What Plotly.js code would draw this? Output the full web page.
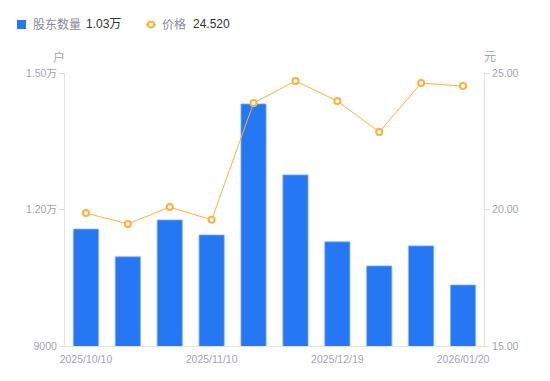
<!DOCTYPE html>
<html>
<head>
<meta charset="utf-8">
<script src="https://cdn.plot.ly/plotly-3.0.1.min.js"></script>
<style>html,body{margin:0;padding:0;background:#fff;}#chart{width:550px;height:381px;}</style>
</head>
<body>
<div id="chart"></div>
<script>
const dates = ["2025/10/10","2025/10/20","2025/10/31","2025/11/10","2025/11/20","2025/11/28","2025/12/19","2025/12/31","2026/01/09","2026/01/20"];
const holders = [11570, 10960, 11770, 11440, 14320, 12760, 11290, 10760, 11200, 10340];
const prices = [19.87, 19.47, 20.09, 19.62, 23.90, 24.71, 23.97, 22.84, 24.63, 24.52];
const xTickVals = ["2025/10/10","2025/11/10","2025/12/19","2026/01/20"];
const leftTickVals = [9000, 12000, 15000];
const leftTickText = ["9000", "1.20万", "1.50万"];
const rightTickVals = [15, 20, 25];
const rightTickText = ["15.00", "20.00", "25.00"];
const legendHolders = "1.03万";
const legendPrice = "24.520";

const FONT = "Liberation Sans, Arial, Noto Sans CJK SC, sans-serif";
const L = 65, R = 484, T = 73, B = 346;
const px = x => (x - L) / (R - L);
const py = y => (B - y) / (B - T);

const barColor = "#2577F3";
const lineColor = "#FBB13C";
const tickColor = "#a3a3b3";
const TICK_SIZE = 10.5;

const traces = [
  {
    type: "bar", x: dates, y: holders, yaxis: "y",
    marker: {color: barColor, line: {color: "#7fb0f7", width: 0.8}},
    width: 0.6, hoverinfo: "skip", showlegend: false
  },
  {
    type: "scatter", mode: "lines+markers", x: dates, y: prices, yaxis: "y2",
    line: {color: lineColor, width: 1},
    marker: {symbol: "circle", size: 6, color: "#ffffff", line: {color: lineColor, width: 2}},
    hoverinfo: "skip", showlegend: false, cliponaxis: false
  }
];

const layout = {
  width: 550, height: 381,
  margin: {l: L, r: 550 - R, t: T, b: 381 - B, pad: 0},
  paper_bgcolor: "#ffffff", plot_bgcolor: "#ffffff",
  font: {family: FONT, size: 11, color: tickColor},
  bargap: 0.4,
  xaxis: {
    type: "category", tickmode: "array", tickvals: xTickVals,
    range: [-0.5, dates.length - 0.5], autorange: false,
    showgrid: false, zeroline: false, showline: true, linecolor: "#e3e3e3", linewidth: 1,
    ticks: "outside", ticklen: 3, tickcolor: "rgba(0,0,0,0)",
    tickfont: {size: TICK_SIZE, color: tickColor, family: FONT}, automargin: false
  },
  yaxis: {
    range: [9000, 15000], tickmode: "array", tickvals: leftTickVals, ticktext: leftTickText,
    showgrid: false, zeroline: false, showline: true, linecolor: "#e3e3e3", linewidth: 1,
    ticks: "outside", ticklen: 5, tickcolor: "#dedede", tickwidth: 1,
    tickfont: {size: TICK_SIZE, color: tickColor, family: FONT}, automargin: false
  },
  yaxis2: {
    range: [15, 25], overlaying: "y", side: "right",
    tickmode: "array", tickvals: rightTickVals, ticktext: rightTickText,
    showgrid: false, zeroline: false, showline: true, linecolor: "#e3e3e3", linewidth: 1,
    ticks: "outside", ticklen: 5, tickcolor: "#dedede", tickwidth: 1,
    tickfont: {size: TICK_SIZE, color: tickColor, family: FONT}, automargin: false
  },
  shapes: [
    {type: "rect", xref: "paper", yref: "paper", x0: px(17), x1: px(26), y0: py(29), y1: py(20),
     fillcolor: barColor, line: {width: 0}},
    {type: "line", xref: "paper", yref: "paper", x0: px(146), x1: px(156), y0: py(24.5), y1: py(24.5),
     line: {color: lineColor, width: 1.5}},
    {type: "circle", xref: "paper", yref: "paper", x0: px(148), x1: px(154), y0: py(27.5), y1: py(21.5),
     fillcolor: "#ffffff", line: {color: lineColor, width: 2}}
  ],
  annotations: [
    {xref: "paper", yref: "paper", x: px(31), y: py(24.5), xanchor: "left", yanchor: "middle",
     text: "股东数量", showarrow: false, font: {size: 12, color: "#8a8a99", family: FONT}},
    {xref: "paper", yref: "paper", x: px(84), y: py(24.5), xanchor: "left", yanchor: "middle",
     text: legendHolders, showarrow: false, font: {size: 12, color: "#333333", family: FONT}},
    {xref: "paper", yref: "paper", x: px(160), y: py(24.5), xanchor: "left", yanchor: "middle",
     text: "价格", showarrow: false, font: {size: 12, color: "#8a8a99", family: FONT}},
    {xref: "paper", yref: "paper", x: px(191), y: py(24.5), xanchor: "left", yanchor: "middle",
     text: legendPrice, showarrow: false, font: {size: 12, color: "#333333", family: FONT}},
    {xref: "paper", yref: "paper", x: px(59), y: py(57), xanchor: "center", yanchor: "middle",
     text: "户", showarrow: false, font: {size: 12, color: tickColor, family: FONT}},
    {xref: "paper", yref: "paper", x: px(490), y: py(57), xanchor: "center", yanchor: "middle",
     text: "元", showarrow: false, font: {size: 12, color: tickColor, family: FONT}}
  ]
};

Plotly.newPlot("chart", traces, layout, {displayModeBar: false, staticPlot: true});
</script>
</body>
</html>
